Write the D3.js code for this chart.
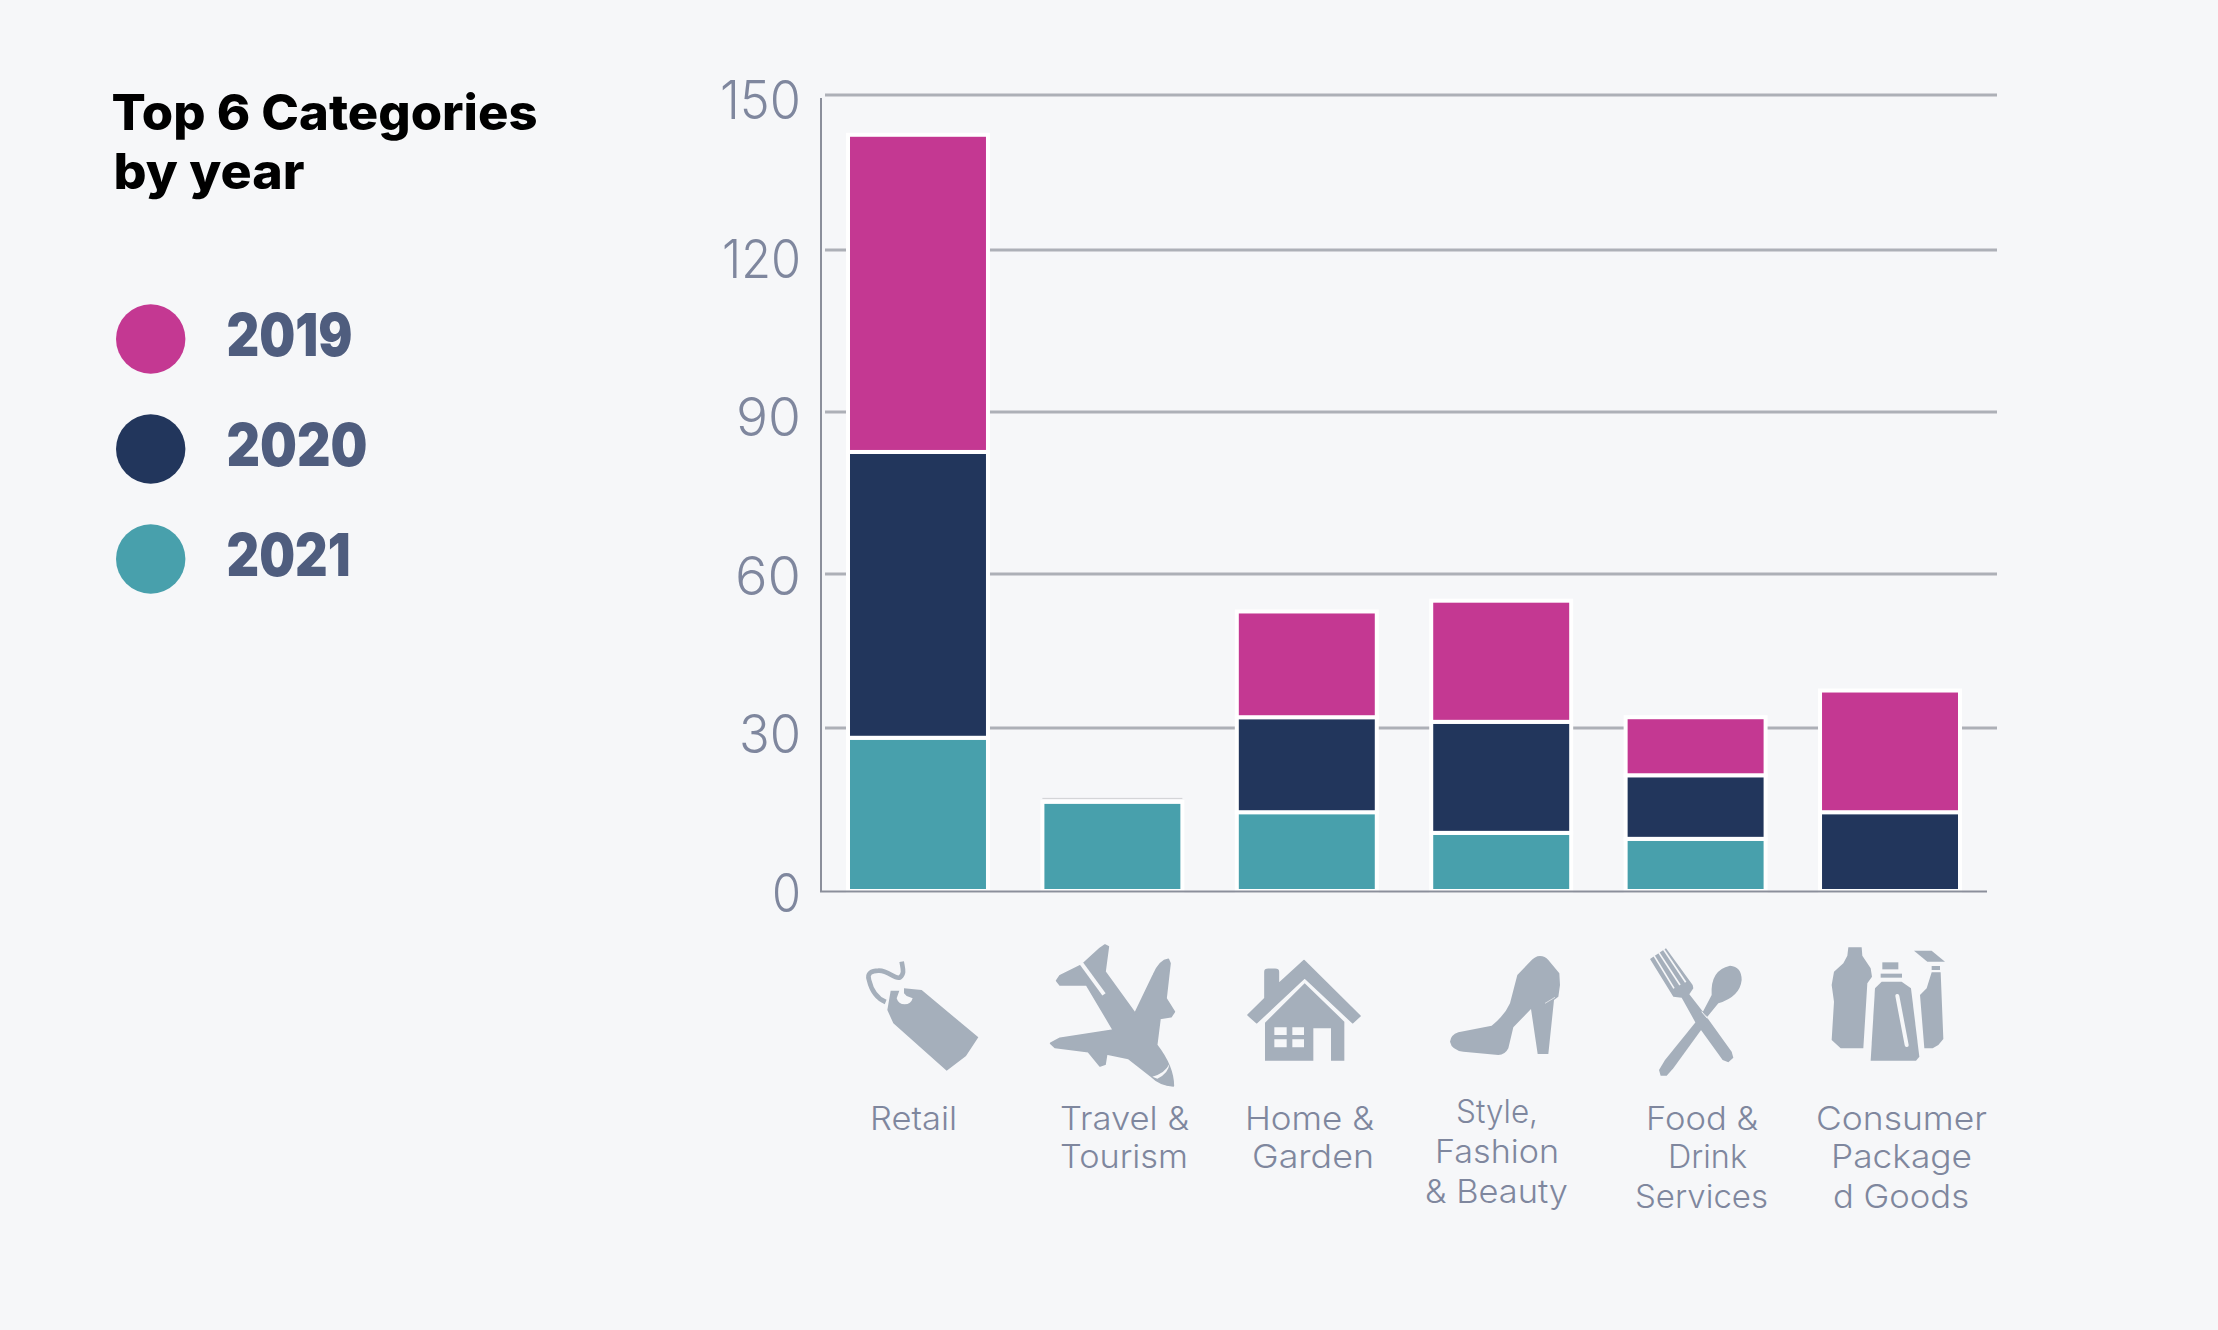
<!DOCTYPE html>
<html>
<head>
<meta charset="utf-8">
<title>Top 6 Categories by year</title>
<script src="https://cdn.jsdelivr.net/npm/d3@7/dist/d3.min.js"></script>
<style>
  html, body { margin: 0; padding: 0; background: #f6f7f9; }
  svg { display: block; }
  text { font-family: Inter, "Noto Sans", sans-serif; }
</style>
</head>
<body>
<svg id="chart" width="2218" height="1330"></svg>
<script>
// Chart values
const categories = ["Retail", "Travel & Tourism", "Home & Garden", "Style, Fashion & Beauty", "Food & Drink Services", "Consumer Packaged Goods"];
const years = ["2021", "2020", "2019"];
const values2019 = [59.7, 0, 20.6, 23.6, 10.8, 22.8];
const values2020 = [54.4, 0, 17.6, 20.5, 11.7, 14.5];
const values2021 = [28.2, 16.4, 14.5, 10.7, 9.6, 0];
const yTicks = [0, 30, 60, 90, 120, 150];
const titleLines = ["Top 6 Categories", "by year"];
const legendYears = ["2019", "2020", "2021"];
const categoryLabelLines = [
  ["Retail"],
  ["Travel &", "Tourism"],
  ["Home &", "Garden"],
  ["Style,", "Fashion", "& Beauty"],
  ["Food &", "Drink", "Services"],
  ["Consumer", "Package", "d Goods"]
];

// Layout
const colors = { "2019": "#c43892", "2020": "#22365c", "2021": "#48a0ac" };
const bg = "#f6f7f9", iconFill = "#a5afbb", labelFill = "#7f879e", legendFill = "#4f5d7e";
const titleRows = [[111.5, 129.5, 426], [113.5, 188.5, 191]];
const legendRows = [[339, 355.7, 126], [449, 465.7, 141], [559, 575.7, 124]];
const tickWidths = { 0: 29, 30: 62, 60: 66, 90: 65, 120: 79, 150: 81 };
const categoryLabelRows = [
  [[870, 1130, 87]],
  [[1060, 1130, 129], [1060, 1168, 128]],
  [[1245, 1130, 129], [1252, 1168, 122]],
  [[1456, 1123, 82], [1435, 1163, 124], [1425, 1203, 143]],
  [[1646, 1130, 112], [1668, 1168, 79], [1635, 1208, 133]],
  [[1816, 1130, 171], [1831, 1168, 141], [1833, 1208, 136]]
];

const svg = d3.select("#chart");
svg.append("rect").attr("width", 2218).attr("height", 1330).attr("fill", bg);

// Scales: gridlines sit at slightly uneven spacing, so the y scale is piecewise
const y = d3.scaleLinear().domain(yTicks).range([891, 728, 574, 412, 250, 95]);
const yLabel = d3.scaleLinear().domain([0, 150]).range([912, 119]);
const x = d3.scaleBand().domain(categories).range([848, 1960]).paddingInner(0.28).paddingOuter(0);

const fitted = sel => sel.attr("lengthAdjust", "spacingAndGlyphs");

// Gridlines
const grid = svg.append("g").attr("transform", "translate(825,0)")
  .call(d3.axisLeft(y).tickValues(yTicks.slice(1)).tickSize(-1172).tickFormat("").offset(0));
grid.select(".domain").remove();
grid.selectAll("line").attr("stroke", "#adb0b7").attr("stroke-width", 3);

// Stacked bars
const rows = categories.map((c, i) => ({ category: c, "2019": values2019[i], "2020": values2020[i], "2021": values2021[i] }));
const stacked = d3.stack().keys(years)(rows);

// Hairline above the single-segment bar
svg.append("line")
  .attr("x1", x(categories[1])).attr("x2", x(categories[1]) + x.bandwidth())
  .attr("y1", y(values2021[1]) - 3.5).attr("y2", y(values2021[1]) - 3.5)
  .attr("stroke", "#d0d1d4").attr("stroke-width", 1);

svg.append("g").selectAll("g").data(stacked).join("g")
  .attr("fill", d => colors[d.key])
  .selectAll("rect").data(d => d.filter(s => s[1] > s[0])).join("rect")
  .attr("x", d => x(d.data.category))
  .attr("width", x.bandwidth())
  .attr("y", d => y(d[1]))
  .attr("height", d => y(d[0]) - y(d[1]))
  .attr("stroke", "#ffffff")
  .attr("stroke-width", 4);

// Axis lines
const axisColor = "#8b8f9b";
svg.append("line").attr("x1", 821).attr("x2", 821).attr("y1", 98).attr("y2", 892)
  .attr("stroke", axisColor).attr("stroke-width", 2);
svg.append("line").attr("x1", 820).attr("x2", 1987).attr("y1", 891.5).attr("y2", 891.5)
  .attr("stroke", axisColor).attr("stroke-width", 2);

// Y tick labels
const yAxis = svg.append("g").attr("transform", "translate(801,0)")
  .call(d3.axisLeft(yLabel).tickValues(yTicks).tickSize(0).tickPadding(0).offset(0));
yAxis.select(".domain").remove();
yAxis.selectAll("line").remove();
yAxis.selectAll("text")
  .attr("dy", 0)
  .attr("font-family", "Inter").attr("font-size", 54).attr("font-weight", 300)
  .attr("fill", labelFill)
  .attr("textLength", d => tickWidths[d])
  .call(fitted);

// Title
svg.append("g").selectAll("text").data(titleLines).join("text")
  .attr("x", (d, i) => titleRows[i][0]).attr("y", (d, i) => titleRows[i][1])
  .attr("textLength", (d, i) => titleRows[i][2])
  .attr("font-size", 49).attr("font-weight", 800).attr("fill", "#000")
  .text(d => d).call(fitted);

// Legend
const legend = svg.append("g").selectAll("g").data(legendYears).join("g");
legend.append("circle")
  .attr("cx", 150.7).attr("cy", (d, i) => legendRows[i][0])
  .attr("r", 34.7)
  .attr("fill", d => colors[d]);
legend.append("text")
  .attr("x", 226.5).attr("y", (d, i) => legendRows[i][1])
  .attr("textLength", (d, i) => legendRows[i][2])
  .attr("font-size", 59).attr("font-weight", 900).attr("fill", legendFill)
  .text(d => d).call(fitted);

// Category labels
svg.append("g").selectAll("g").data(categoryLabelLines).join("g")
  .each(function (lines, c) {
    d3.select(this).selectAll("text").data(lines).join("text")
      .attr("x", (d, i) => categoryLabelRows[c][i][0])
      .attr("y", (d, i) => categoryLabelRows[c][i][1])
      .attr("textLength", (d, i) => categoryLabelRows[c][i][2])
      .attr("font-size", 33).attr("font-weight", 300).attr("fill", labelFill)
      .text(d => d).call(fitted);
  });

// Category pictograms, drawn at triple size and scaled down
function icon(tx, ty) {
  return svg.append("g").attr("transform", `translate(${tx},${ty}) scale(${1 / 3})`).attr("fill", iconFill);
}
const round = sel => sel.attr("stroke", iconFill).attr("stroke-width", 5).attr("stroke-linejoin", "round");
const cut = (g, d, w) => g.append("path").attr("d", d).attr("fill", "none").attr("stroke", bg).attr("stroke-width", w).attr("stroke-linecap", "butt");

// Price tag
const tag = icon(840, 930);
tag.append("path")
  .attr("d", "M192,175 L245,180 L415,322 L378,378 L320,422 L160,280 L142,240 L152,182 L178,182 L170,205 A25,25 0 0 0 218,205 L200,198 L192,190 Z");
tag.append("path")
  .attr("d", "M185,95 C188,115 195,130 180,142 C165,150 145,120 115,122 C95,122 80,130 87,150 C94,180 110,205 137,216")
  .attr("fill", "none").attr("stroke", iconFill).attr("stroke-width", 14);

// Airliner
const plane = icon(1040, 930);
plane.append("path")
  .attr("d", "M195,45 L205,50 L195,125 L285,250 L340,135 Q360,90 385,88 L390,100 L378,205 L403,245 L393,260 L360,265 L350,345 Q400,410 400,468 Q360,465 335,440 L265,385 L200,372 L195,403 L180,408 L145,365 L45,352 L32,340 L60,325 L220,300 L140,165 L60,165 L50,152 L60,137 L125,105 L180,55 Z")
  .call(round);
cut(plane, "M124,100 L192,193", 12);
plane.append("path").attr("d", "M337,440 Q375,430 388,402 Q386,430 352,446 Z").attr("fill", bg);

// House
const house = icon(1230, 940);
house.append("path")
  .attr("d", "M222,62 L390,228 L368,248 L224,113 L80,248 L54,225 L105,175 L105,95 Q105,88 115,88 L135,88 Q145,88 145,95 L145,132 Z")
  .call(round);
house.append("path").attr("fill-rule", "evenodd")
  .attr("d", "M224,130 L343,245 L343,362 L303,362 L303,265 L250,265 L250,362 L105,362 L105,248 Z M133,262 H170 V285 H133 Z M187,262 H222 V285 H187 Z M133,298 H170 V322 H133 Z M187,298 H222 V322 H187 Z");

// High-heeled shoe
const shoe = icon(1430, 940);
shoe.append("path")
  .attr("d", "M330,48 Q345,48 355,60 L388,100 L390,135 L385,170 L372,180 L355,342 L323,342 L303,207 L250,262 L235,325 Q225,345 205,345 L100,335 Q65,330 60,305 Q62,285 85,277 L185,257 Q225,225 240,190 L262,105 L300,65 Q315,48 330,48 Z");
cut(shoe, "M345,190 L375,172", 2);

// Fork and spoon
const cutlery = icon(1630, 935);
cutlery.append("path")
  .attr("d", "M108,40 L188,150 L190,160 L178,178 L220,232 L305,350 L310,368 L295,382 L278,375 L195,260 L155,188 L130,185 L60,72 Z");
cut(cutlery, "M72,62 L132,160", 5);
cut(cutlery, "M86,52 L150,150", 5);
cut(cutlery, "M100,42 L167,142", 5);
cutlery.append("path")
  .attr("d", "M300,92 Q335,95 335,135 Q330,185 265,205 L232,245 L218,232 L245,180 Q240,105 300,92 Z");
cutlery.append("path")
  .attr("d", "M210,245 L235,255 L130,400 L110,422 L92,422 L87,405 L105,375 Z");
cut(cutlery, "M215,230 L232,250", 3);

// Household bottles
const bottles = icon(1630, 935);
bottles.append("path")
  .attr("d", "M655,37 L695,37 L697,62 L722,100 L726,125 L712,145 L700,340 L632,340 L605,315 L612,200 L605,150 L612,110 L640,85 L652,62 Z");
bottles.append("rect").attr("x", 757).attr("y", 82).attr("width", 48).attr("height", 21);
bottles.append("rect").attr("x", 752).attr("y", 116).attr("width", 64).attr("height", 12);
bottles.append("path")
  .attr("d", "M755,140 L815,140 L843,160 L868,365 L858,377 L722,377 L735,160 Z");
cut(bottles, "M802,183 L830,330", 12).attr("stroke-linecap", "round");
bottles.append("path").attr("d", "M852,47 L905,47 L945,80 L892,80 Z");
bottles.append("rect").attr("x", 905).attr("y", 93).attr("width", 25).attr("height", 12);
bottles.append("path")
  .attr("d", "M905,112 L932,112 L940,312 L925,330 L908,340 L883,340 L870,180 L890,160 Z");
</script>
</body>
</html>
